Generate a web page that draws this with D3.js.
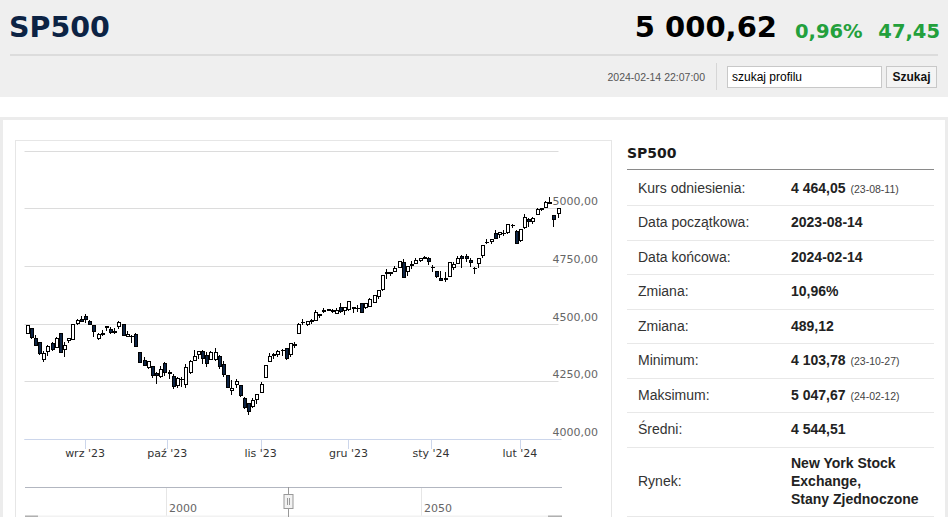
<!DOCTYPE html>
<html lang="pl">
<head>
<meta charset="utf-8">
<title>SP500</title>
<script src="https://cdnjs.cloudflare.com/ajax/libs/d3/7.8.5/d3.min.js"></script>
<style>
  body { margin: 0; width: 948px; height: 517px; overflow: hidden; background: #fff; }
  svg { display: block; }
</style>
</head>
<body>
<div id="page"></div>
<script>
// trading days shown on the chart
var dates = [
  "2023-08-14","2023-08-15","2023-08-16","2023-08-17","2023-08-18","2023-08-21","2023-08-22","2023-08-23","2023-08-24","2023-08-25","2023-08-28","2023-08-29","2023-08-30","2023-08-31",
  "2023-09-01","2023-09-05","2023-09-06","2023-09-07","2023-09-08","2023-09-11","2023-09-12","2023-09-13","2023-09-14","2023-09-15","2023-09-18","2023-09-19","2023-09-20","2023-09-21","2023-09-22","2023-09-25","2023-09-26","2023-09-27","2023-09-28","2023-09-29",
  "2023-10-02","2023-10-03","2023-10-04","2023-10-05","2023-10-06","2023-10-09","2023-10-10","2023-10-11","2023-10-12","2023-10-13","2023-10-16","2023-10-17","2023-10-18","2023-10-19","2023-10-20","2023-10-23","2023-10-24","2023-10-25","2023-10-26","2023-10-27","2023-10-30","2023-10-31",
  "2023-11-01","2023-11-02","2023-11-03","2023-11-06","2023-11-07","2023-11-08","2023-11-09","2023-11-10","2023-11-13","2023-11-14","2023-11-15","2023-11-16","2023-11-17","2023-11-20","2023-11-21","2023-11-22","2023-11-24","2023-11-27","2023-11-28","2023-11-29","2023-11-30",
  "2023-12-01","2023-12-04","2023-12-05","2023-12-06","2023-12-07","2023-12-08","2023-12-11","2023-12-12","2023-12-13","2023-12-14","2023-12-15","2023-12-18","2023-12-19","2023-12-20","2023-12-21","2023-12-22","2023-12-26","2023-12-27","2023-12-28","2023-12-29",
  "2024-01-02","2024-01-03","2024-01-04","2024-01-05","2024-01-08","2024-01-09","2024-01-10","2024-01-11","2024-01-12","2024-01-16","2024-01-17","2024-01-18","2024-01-19","2024-01-22","2024-01-23","2024-01-24","2024-01-25","2024-01-26","2024-01-29","2024-01-30","2024-01-31",
  "2024-02-01","2024-02-02","2024-02-05","2024-02-06","2024-02-07","2024-02-08","2024-02-09","2024-02-12","2024-02-13","2024-02-14"
];
var open = [
  4458.13,4478.87,4433.79,4416.32,4344.88,4380.28,4415.33,4396.44,4455.16,4389.38,4426.03,4432.75,4500.34,4517.01,
  4530.60,4510.06,4490.35,4434.55,4451.30,4480.98,4473.27,4462.65,4487.78,4497.98,4445.13,4445.41,4452.81,4374.36,4341.74,4310.62,4312.88,4282.63,4269.65,4328.18,
  4284.52,4269.75,4233.83,4259.31,4234.79,4289.02,4339.75,4366.59,4380.94,4360.49,4342.37,4345.23,4357.35,4321.36,4273.85,4210.40,4235.79,4232.42,4175.99,4152.93,4139.39,4171.33,
  4201.27,4268.26,4334.23,4364.27,4366.21,4384.37,4391.41,4364.15,4406.66,4458.97,4505.30,4497.08,4509.55,4511.70,4538.77,4553.04,4555.84,4554.86,4545.55,4571.84,4554.87,
  4559.43,4564.37,4566.75,4586.23,4568.84,4576.20,4593.39,4618.30,4646.20,4721.04,4719.74,4725.58,4743.72,4764.73,4724.29,4753.92,4758.86,4773.45,4786.44,4782.88,
  4745.20,4725.07,4697.42,4690.57,4703.70,4741.93,4759.94,4792.13,4791.18,4772.35,4739.13,4760.10,4796.28,4853.42,4856.80,4888.56,4886.66,4888.91,4892.95,4925.89,4899.19,
  4861.11,4916.06,4950.87,4944.01,4973.05,4995.16,5004.17,5026.83,4967.94,4976.44
];
var high = [
  4490.33,4478.87,4449.95,4421.17,4381.82,4407.55,4418.59,4443.18,4458.30,4418.46,4439.56,4500.14,4521.65,4532.26,
  4541.25,4514.29,4490.35,4457.81,4473.53,4490.77,4487.11,4479.39,4511.99,4497.98,4466.36,4449.85,4461.03,4375.70,4357.40,4338.51,4313.01,4292.07,4317.27,4333.15,
  4300.58,4281.15,4268.50,4267.13,4324.10,4341.73,4385.46,4378.64,4385.85,4377.10,4383.33,4393.57,4364.20,4339.54,4276.56,4255.84,4259.38,4232.42,4183.60,4156.70,4177.47,4195.55,
  4245.64,4319.72,4373.62,4372.21,4386.26,4391.20,4393.40,4418.03,4421.76,4503.38,4521.17,4511.99,4520.12,4557.11,4542.14,4568.43,4560.31,4564.37,4568.14,4587.64,4569.89,
  4599.39,4572.37,4578.56,4590.74,4590.92,4609.23,4623.71,4643.93,4709.69,4738.57,4725.58,4749.52,4768.69,4778.01,4748.71,4772.94,4784.72,4785.39,4793.30,4788.43,
  4754.33,4729.29,4726.78,4721.49,4764.54,4765.47,4790.80,4798.50,4802.40,4782.34,4744.23,4785.79,4842.07,4868.41,4866.48,4903.68,4898.15,4906.69,4929.31,4931.09,4906.75,
  4906.97,4975.29,4957.19,4963.18,4999.89,5000.40,5030.06,5047.67,4969.34,5002.52
];
var low = [
  4453.44,4432.19,4403.55,4364.83,4335.31,4360.30,4382.77,4396.44,4375.55,4356.29,4414.98,4431.68,4493.59,4507.39,
  4501.35,4496.01,4442.38,4430.46,4448.38,4467.89,4456.83,4453.52,4478.69,4447.21,4442.11,4416.61,4401.38,4329.17,4316.49,4302.70,4265.98,4238.63,4264.38,4274.86,
  4260.21,4216.45,4220.48,4225.91,4219.55,4283.79,4339.64,4345.34,4325.43,4311.97,4342.37,4337.54,4303.84,4269.69,4223.03,4189.22,4219.43,4181.42,4127.90,4103.78,4132.94,4153.12,
  4197.74,4268.26,4334.23,4347.53,4355.41,4359.76,4343.94,4353.34,4393.82,4458.97,4495.31,4487.83,4499.66,4510.36,4525.51,4545.05,4552.80,4545.76,4540.51,4547.15,4537.24,
  4554.71,4546.72,4551.68,4546.50,4565.22,4574.06,4593.39,4608.09,4643.23,4694.34,4704.48,4725.58,4743.72,4697.82,4708.35,4736.77,4758.45,4768.90,4780.98,4751.99,
  4722.67,4699.71,4687.53,4682.11,4699.82,4730.35,4756.20,4739.58,4768.98,4747.12,4714.82,4740.57,4785.87,4844.05,4844.37,4865.94,4869.34,4881.47,4887.40,4916.27,4845.15,
  4853.52,4907.99,4918.09,4930.70,4969.05,4987.09,5000.34,5016.32,4920.31,4956.23
];
var close = [
  4489.72,4437.86,4404.33,4370.36,4369.71,4399.77,4387.55,4436.01,4376.31,4405.71,4433.31,4497.63,4514.87,4507.66,
  4515.77,4496.83,4465.48,4451.14,4457.49,4487.46,4461.90,4467.44,4505.10,4450.32,4453.53,4443.95,4402.20,4330.00,4320.06,4337.44,4273.53,4274.51,4299.70,4288.05,
  4288.39,4229.45,4263.75,4258.19,4308.50,4335.66,4358.24,4376.95,4349.61,4327.78,4373.63,4373.20,4314.60,4278.00,4224.16,4217.04,4247.68,4186.77,4137.23,4117.37,4166.82,4193.80,
  4237.86,4317.78,4358.34,4365.98,4378.38,4382.78,4347.35,4415.24,4411.55,4495.70,4502.88,4508.24,4514.02,4547.38,4538.19,4556.62,4559.34,4550.43,4554.89,4550.58,4567.80,
  4594.63,4569.78,4567.18,4549.34,4585.59,4604.37,4622.44,4643.70,4707.09,4719.55,4719.19,4740.56,4768.37,4698.35,4746.75,4754.63,4774.75,4781.58,4783.35,4769.83,
  4742.83,4704.81,4688.68,4697.24,4763.54,4756.50,4783.45,4780.24,4783.83,4765.98,4739.21,4780.94,4839.81,4850.43,4864.60,4868.55,4894.16,4890.97,4927.93,4924.97,4845.65,
  4906.19,4958.61,4942.81,4954.23,4995.06,4997.91,5026.61,5021.84,4953.17,5000.62
];

// axes
var monthTicks = ["2023-09-01","2023-10-01","2023-11-01","2023-12-01","2024-01-01","2024-02-01"];
var monthLabels = ["wrz '23","paź '23","lis '23","gru '23","sty '24","lut '24"];
var yTicks = [4000, 4250, 4500, 4750, 5000, 5250];
var navTicks = [2000, 2050];
var navWindow = [2023.62, 2024.12];

// header and side table
var quote = "5 000,62", changePct = "0,96%", changeAbs = "47,45";
var stamp = "2024-02-14 22:07:00";
var rowLabels = ["Kurs odniesienia:","Data początkowa:","Data końcowa:","Zmiana:","Zmiana:","Minimum:","Maksimum:","Średni:","Rynek:"];
var rowValues = ["4 464,05","2023-08-14","2024-02-14","10,96%","489,12","4 103,78","5 047,67","4 544,51","New York Stock|Exchange,|Stany Zjednoczone"];
var rowNotes = ["(23-08-11)","","","","","(23-10-27)","(24-02-12)","",""];

var W = 948, H = 517;
var navy = "#0c2344", green = "#23a03c";
var dv = "'DejaVu Sans', Verdana, sans-serif";
var ar = "'Liberation Sans', Arial, sans-serif";

var svg = d3.select("#page").append("svg").attr("width", W).attr("height", H);

// ---- page header ----
svg.append("rect").attr("width", W).attr("height", 97).attr("fill", "#efefef");
svg.append("text").attr("x", 9).attr("y", 37).text("SP500")
   .attr("font-family", dv).attr("font-weight", "bold").attr("font-size", 28.5).attr("fill", navy);
svg.append("text").attr("x", 777).attr("y", 37).attr("text-anchor", "end").text(quote)
   .attr("font-family", dv).attr("font-weight", "bold").attr("font-size", 29).attr("fill", "#000");
svg.append("text").attr("x", 795).attr("y", 38).text(changePct)
   .attr("font-family", dv).attr("font-weight", "bold").attr("font-size", 19.5).attr("fill", green);
svg.append("text").attr("x", 940).attr("y", 38).attr("text-anchor", "end").text(changeAbs)
   .attr("font-family", dv).attr("font-weight", "bold").attr("font-size", 19.5).attr("fill", green);
svg.append("rect").attr("x", 10).attr("y", 54).attr("width", 928).attr("height", 2).attr("fill", "#dcdcdc");
svg.append("text").attr("x", 705).attr("y", 81).attr("text-anchor", "end").text(stamp)
   .attr("font-family", ar).attr("font-size", 10.5).attr("fill", "#555");
svg.append("line").attr("x1", 716.5).attr("x2", 716.5).attr("y1", 63).attr("y2", 90).attr("stroke", "#d6d6d6");
svg.append("rect").attr("x", 727.5).attr("y", 66.5).attr("width", 154).attr("height", 21)
   .attr("fill", "#fff").attr("stroke", "#c8c8c8");
svg.append("text").attr("x", 732).attr("y", 81).text("szukaj profilu")
   .attr("font-family", ar).attr("font-size", 12).attr("fill", "#000");
svg.append("rect").attr("x", 886.5).attr("y", 66.5).attr("width", 50).attr("height", 21)
   .attr("fill", "#f4f4f4").attr("stroke", "#c8c8c8");
svg.append("text").attr("x", 911.5).attr("y", 81).attr("text-anchor", "middle").text("Szukaj")
   .attr("font-family", ar).attr("font-weight", "bold").attr("font-size", 12).attr("fill", "#111");

// container borders
svg.append("rect").attr("x", 0).attr("y", 117).attr("width", W).attr("height", 3).attr("fill", "#ececec");
svg.append("rect").attr("x", 0).attr("y", 117).attr("width", 3).attr("height", H).attr("fill", "#ececec");
svg.append("rect").attr("x", W - 3).attr("y", 117).attr("width", 3).attr("height", H).attr("fill", "#ececec");
svg.append("rect").attr("x", 15.5).attr("y", 140.5).attr("width", 596).attr("height", 400)
   .attr("fill", "#fff").attr("stroke", "#e6e6e6");

// ---- chart ----
var parse = d3.utcParse("%Y-%m-%d");
var times = dates.map(parse);
// ordinal position of a calendar date between trading days
function ordinal(t) {
  var i = d3.bisectLeft(times, t);
  if (i < times.length && +times[i] === +t) return i;
  var a = times[i - 1], b = times[i];
  return i - 1 + (t - a) / (b - a);
}

var x = d3.scaleLinear().domain([0, dates.length - 1]).range([26.5, 557.5]);
var y = d3.scaleLinear().domain([4000, 5250]).range([439, 150.5]);
var fmt = function(v) { return d3.format(".2f")(v).replace(".", ","); };

svg.append("defs").append("clipPath").attr("id", "plot")
   .append("rect").attr("x", 24).attr("y", 140).attr("width", 538).attr("height", 300);

svg.append("g").selectAll("line").data(yTicks).join("line")
   .attr("x1", 24.5).attr("x2", 558.5)
   .attr("y1", function(d){ return Math.round(y(d)) + 0.5; })
   .attr("y2", function(d){ return Math.round(y(d)) + 0.5; })
   .attr("stroke", function(d){ return d === 4000 ? "#ccd6eb" : "#dcdcdc"; });

svg.append("g").selectAll("text").data(yTicks.filter(function(d){ return d < 5250; })).join("text")
   .attr("x", 598).attr("y", function(d){ return y(d) - 3; })
   .attr("text-anchor", "end").text(fmt)
   .attr("font-family", dv).attr("font-size", 11).attr("fill", "#666");

var tickPos = monthTicks.map(function(d){ return x(ordinal(parse(d))); });
var xa = svg.append("g");
xa.append("line").attr("x1", 24.5).attr("x2", 561.5).attr("y1", 439.5).attr("y2", 439.5).attr("stroke", "#ccd6eb");
xa.selectAll("line.tk").data(tickPos).join("line").attr("class", "tk")
   .attr("x1", function(d){ return Math.round(d) + 0.5; })
   .attr("x2", function(d){ return Math.round(d) + 0.5; })
   .attr("y1", 439).attr("y2", 449).attr("stroke", "#ccd6eb");
xa.selectAll("text").data(monthLabels).join("text")
   .attr("x", function(d, i){ return tickPos[i]; }).attr("y", 457)
   .attr("text-anchor", "middle").text(function(d){ return d; })
   .attr("font-family", dv).attr("font-size", 11).attr("fill", "#333");

var idx = d3.range(dates.length);
var bw = 3;
var candles = svg.append("g").attr("clip-path", "url(#plot)").attr("shape-rendering", "crispEdges");
candles.selectAll("line").data(idx).join("line")
   .attr("x1", function(i){ return Math.round(x(i)) + 0.5; })
   .attr("x2", function(i){ return Math.round(x(i)) + 0.5; })
   .attr("y1", function(i){ return y(high[i]); })
   .attr("y2", function(i){ return y(low[i]); })
   .attr("stroke", "#000");
candles.selectAll("rect").data(idx).join("rect")
   .attr("x", function(i){ return Math.round(x(i)) - bw / 2 + 0.5; })
   .attr("width", bw)
   .attr("y", function(i){ return y(Math.max(open[i], close[i])); })
   .attr("height", function(i){ return Math.max(0.5, Math.abs(y(open[i]) - y(close[i]))); })
   .attr("fill", function(i){ return close[i] < open[i] ? navy : "#fff"; })
   .attr("stroke", "#000");

// ---- navigator ----
var nx = d3.scaleLinear().domain([1972.35, 2077.65]).range([25, 562]);
var nav = svg.append("g");
nav.selectAll("line.g").data(navTicks).join("line").attr("class", "g")
   .attr("x1", function(d){ return Math.round(nx(d)) + 0.5; })
   .attr("x2", function(d){ return Math.round(nx(d)) + 0.5; })
   .attr("y1", 487).attr("y2", 517).attr("stroke", "#e6e6e6");
nav.selectAll("text").data(navTicks).join("text")
   .attr("x", function(d){ return nx(d) + 3; }).attr("y", 512)
   .text(function(d){ return d; })
   .attr("font-family", dv).attr("font-size", 11).attr("fill", "#666");
nav.append("line").attr("x1", 25).attr("x2", 562).attr("y1", 487.5).attr("y2", 487.5).attr("stroke", "#b2b6c0");
nav.append("rect").attr("x", 25).attr("y", 515.5).attr("width", 537).attr("height", 2).attr("fill", "#f2f2f2");
nav.append("rect").attr("x", 25).attr("y", 515.5).attr("width", 13).attr("height", 2).attr("fill", "#b0b0b0");
nav.append("rect").attr("x", 548).attr("y", 515.5).attr("width", 14).attr("height", 2).attr("fill", "#b0b0b0");
var hx = Math.round(nx((navWindow[0] + navWindow[1]) / 2)) + 0.5;
nav.append("line").attr("x1", hx).attr("x2", hx).attr("y1", 487).attr("y2", 517).attr("stroke", "#999");
nav.append("rect").attr("x", hx - 4.5).attr("y", 494.5).attr("width", 9).attr("height", 14)
   .attr("fill", "#f2f2f2").attr("stroke", "#999");
nav.selectAll("line.h").data([-1, 1]).join("line").attr("class", "h")
   .attr("x1", function(d){ return hx + d; }).attr("x2", function(d){ return hx + d; })
   .attr("y1", 498).attr("y2", 505).attr("stroke", "#999");

// ---- side table ----
var tb = svg.append("g");
tb.append("text").attr("x", 627).attr("y", 158).text("SP500")
   .attr("font-family", dv).attr("font-weight", "bold").attr("font-size", 14).attr("fill", "#1a1a1a");
tb.append("line").attr("x1", 627).attr("x2", 934).attr("y1", 169.5).attr("y2", 169.5).attr("stroke", "#8a8a8a");
var rowTop = 170.5, rowH = 34.5;
var rows = tb.selectAll("g.row").data(rowLabels).join("g").attr("class", "row");
rows.append("line").attr("x1", 627).attr("x2", 934)
   .attr("y1", function(d, i){ return i < 8 ? Math.round(rowTop + (i + 1) * rowH) + 0.5 : 516.5; })
   .attr("y2", function(d, i){ return i < 8 ? Math.round(rowTop + (i + 1) * rowH) + 0.5 : 516.5; })
   .attr("stroke", "#e8e8e8");
function rowMid(i) { return i < 8 ? rowTop + (i + 0.5) * rowH : 481; }
rows.append("text").attr("x", 638).attr("y", function(d, i){ return rowMid(i) + 5; })
   .text(function(d){ return d; })
   .attr("font-family", ar).attr("font-size", 14).attr("fill", "#333");
rows.each(function(d, i) {
  var g = d3.select(this);
  var parts = rowValues[i].split("|");
  var t = g.append("text").attr("x", 791)
     .attr("font-family", ar).attr("font-weight", "bold").attr("font-size", 14).attr("fill", "#222");
  if (parts.length > 1) {
    parts.forEach(function(p, k) {
      t.append("tspan").attr("x", 791).attr("y", rowMid(i) - 13 + k * 18).text(p);
    });
  } else {
    t.attr("y", rowMid(i) + 5).text(parts[0]);
    if (rowNotes[i]) {
      t.append("tspan").attr("dx", 5).attr("font-weight", "normal").attr("font-size", 10.5)
       .attr("fill", "#444").text(rowNotes[i]);
    }
  }
});
</script>
</body>
</html>
